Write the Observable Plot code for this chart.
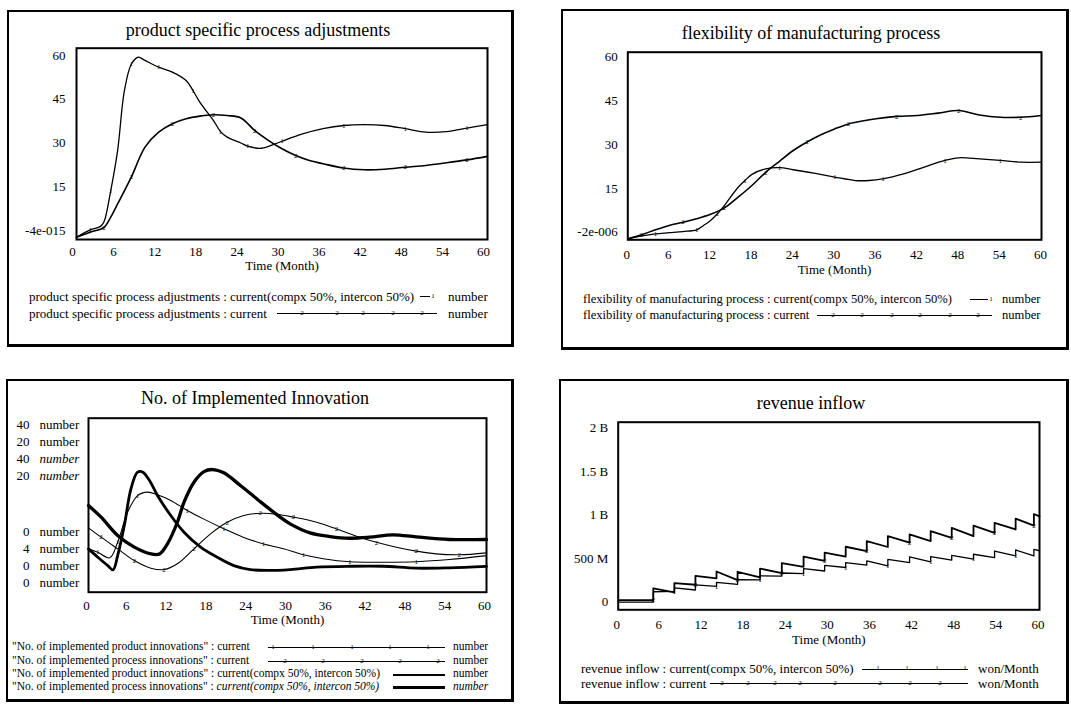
<!DOCTYPE html>
<html><head><meta charset="utf-8">
<script src="https://cdn.jsdelivr.net/npm/d3@7"></script>
<script src="https://cdn.jsdelivr.net/npm/@observablehq/plot@0.6"></script>
<style>
body{margin:0;background:#fff;font-family:"Liberation Serif","Times New Roman",serif;color:#000;}
#page{position:relative;width:1071px;height:709px;overflow:hidden;background:#fff;}
.box{position:absolute;border:2px solid #000;border-right-width:3px;border-bottom-width:3px;box-sizing:border-box;}
.title{position:absolute;transform:translate(-50%,-50%);white-space:nowrap;font-size:18px;}
.lg{position:absolute;white-space:nowrap;transform:translateY(-50%);line-height:1;}
.ln{position:absolute;height:0;border-top-style:solid;border-top-color:#000;}
.mk{position:absolute;font-size:7px;transform:translate(-50%,-55%);line-height:1;}
.plot{position:absolute;}
</style></head><body><div id="page"></div><script>
const FONT = '"Liberation Serif","Times New Roman",serif';
const xTicks = [0, 6, 12, 18, 24, 30, 36, 42, 48, 54, 60];

// ---- Panel 1: product specific process adjustments ----
const psaTimeCompx = [0,2,3.5,4,5,6,7,8,9,10,12,14,16,17,18,20,21,22,24,25,27,29,30,33,36,39,42,45,48,51,54,57,60];
const psaCompx = [-2.3,0.2,1.4,2.9,13.7,27.4,48,57,59.4,58.3,56,54.3,51.4,48,44,37.7,34,32,30,28.9,28.2,29.7,30.6,33.1,34.9,36,36.3,36,34.9,33.7,33.9,35.1,36.3];
const psaTimeCurrent = [0,2,4,5,6,8,10,12,14,16,18,20,22,24,26,28,30,32,34,36,39,42,45,48,51,54,57,60];
const psaCurrent = [-2.3,-0.6,1.1,4.6,9.1,18.3,28.6,33.7,36.6,38.3,39.2,39.7,39.4,38.6,34.3,30.9,28,25.7,24,22.9,21.4,20.8,21,21.7,22.3,23.2,24.2,25.4];
const psaYTicks = [0, 15, 30, 45, 60];
const psaYLabels = ["-4e-015", "15", "30", "45", "60"];

// ---- Panel 2: flexibility of manufacturing process ----
const flexTimeCurrent = [0,2,4,6,8,10,12,14,16,18,20,22,24,26,28,30,32,34,36,39,42,45,48,51,54,57,60];
const flexCurrent = [-2.3,-0.9,0.8,2.3,3.4,4.6,6.1,8.3,12,16,20.5,24.3,28,30.9,33.4,35.4,37.1,38.1,38.9,39.7,40,40.8,41.7,40.2,39.4,39.4,40];
const flexTimeCompx = [0,2,4,6,8,10,11,12,13,14,16,17,18,20,22,24,27,30,33,35,37,40,43,46,48,51,54,57,60];
const flexCompx = [-2.3,-1.3,-0.6,-0.2,0.2,0.8,2.3,4,6.3,9.1,15.4,17.7,19.8,21.7,22.1,21.4,20.2,18.9,17.7,17.7,18.3,20,22.3,24.6,25.5,25.1,24.6,24,24];
const flexYTicks = [0, 15, 30, 45, 60];
const flexYLabels = ["-2e-006", "15", "30", "45", "60"];

// ---- Panel 3: No. of Implemented Innovation (each series on its own scale) ----
const innovScaleMax = [40, 20, 40, 20];
const innovScaleMin = [0, 4, 0, 0];
const innovUnit = "number";
const prodCurTime = [0,1.4,3.2,4.4,5.9,7.4,8.9,10.4,12.4,14.9,17.4,20.4,23.4,26.4,29.4,32.4,35.4,39.4,44.4,49.4,54.4,60];
const prodCur = [10,9.2,7.9,11.5,18.4,22.2,23,22.4,21.1,18.8,16.8,14.6,12.6,11.1,10,8.6,7.7,7.0,6.9,7.0,7.5,8.4];
const procCurTime = [0,1.9,4.4,6.9,9.4,11.4,13.4,15.9,18.4,20.9,23.4,25.9,28.4,30.9,34.4,37.4,40.4,43.4,46.4,49.4,52.4,55.9,60];
const procCur = [9.92,9.06,7.98,6.91,6.21,6.08,6.61,7.98,9.36,10.43,11.06,11.26,11.17,10.9,10.43,9.82,9.15,8.59,8.14,7.78,7.52,7.44,7.62];
const prodCpxTime = [0,1.4,2.9,3.7,4.4,5.4,6.4,7.4,8.2,9.2,10.4,12.4,14.4,16.9,19.4,21.9,24.4,26.9,30.4,34.4,39.4,44.4,49.4,54.4,60];
const prodCpx = [9.96,8.04,6.12,5.12,8.44,15.32,23.76,27.6,27.6,25.68,22.24,17.64,13.8,10.36,8.04,6.12,5.2,5.0,5.2,5.76,5.96,5.96,5.52,5.6,5.92];
const procCpxTime = [0,1.9,4.4,6.9,9.4,10.7,11.9,13.4,14.4,15.9,17.4,18.7,20.4,22.9,25.4,27.9,30.4,33.4,36.4,39.4,42.4,45.9,49.4,54.4,60];
const procCpx = [9.96,8.62,6.52,5.18,4.4,4.4,5.56,8.04,10.34,12.64,13.86,14.1,13.72,12.26,10.72,9.2,7.86,6.82,6.4,6.2,6.32,6.6,6.36,6.06,6.06];

// ---- Panel 4: revenue inflow (million won / Month) ----
const revTime = [0,5,5,8,8,11,11,14,14,17,17,20.2,20.2,23.3,23.3,26.4,26.4,29.4,29.4,32.4,32.4,35.4,35.4,38.4,38.4,41.5,41.5,44.5,44.5,47.5,47.5,50.6,50.6,53.6,53.6,56.6,56.6,59.2,59.2,60];
const revCurrent = [25,25,159,114,220,200,303,273,352,254,349,284,386,334,447,405,523,474,568,523,636,587,701,633,758,682,777,701,814,738,852,758,879,795,909,834,959,879,1011,985];
const revCompx = [0,0,120,125,165,140,198,182,227,204,258,255,303,300,335,328,386,358,422,398,454,425,474,417,490,455,519,462,523,482,538,493,550,511,587,530,599,530,606,590];
const revYTicks = [0, 500, 1000, 1500, 2000];
const revYLabels = ["0", "500 M", "1 B", "1.5 B", "2 B"];

const page = document.getElementById("page");

function box(l, t, w, h) {
  const d = document.createElement("div"); d.className = "box";
  Object.assign(d.style, {left: l + "px", top: t + "px", width: w + "px", height: h + "px"});
  page.appendChild(d);
}
function title(txt, cx, cy) {
  const d = document.createElement("div"); d.className = "title"; d.textContent = txt;
  d.style.left = cx + "px"; d.style.top = cy + "px"; page.appendChild(d);
}
function legendRow(r) {
  const d = document.createElement("div"); d.className = "lg";
  Object.assign(d.style, {left: r.x + "px", top: r.y + "px", fontSize: r.fs + "px"});
  r.parts.forEach(p => { const s = document.createElement("span"); s.textContent = p[0]; if (p[1]) s.style.fontStyle = "italic"; d.appendChild(s); });
  page.appendChild(d);
  const ln = document.createElement("div"); ln.className = "ln";
  Object.assign(ln.style, {left: r.x1 + "px", width: (r.x2 - r.x1) + "px", top: (r.y - r.w / 2 + 1) + "px", borderTopWidth: r.w + "px"});
  page.appendChild(ln);
  (r.marks || []).forEach(mx => { const m = document.createElement("div"); m.className = "mk"; m.textContent = r.mark; m.style.left = mx + "px"; m.style.top = (r.y + 1) + "px"; page.appendChild(m); });
  const u = document.createElement("div"); u.className = "lg"; u.textContent = r.unit;
  Object.assign(u.style, {left: r.ux + "px", top: r.y + "px", fontSize: r.fs + "px", fontStyle: r.unitItalic ? "italic" : "normal"});
  page.appendChild(u);
}

function seriesMarks(list) {
  const out = [];
  list.forEach(s => {
    const data = s.t.map((t, i) => ({t, v: s.v[i]}));
    const y = s.norm ? (d => (d.v - s.norm[0]) / (s.norm[1] - s.norm[0])) : "v";
    out.push(Plot.line(data, {x: "t", y, curve: s.curve || "catmull-rom", stroke: "#000", strokeWidth: s.w}));
    if (s.mark) out.push(Plot.text(data.filter((d, i) => i % s.every === s.off && i > 0 && i < data.length - 1), {x: "t", y, text: () => s.mark, fontSize: 7, fill: "#000", fontFamily: FONT}));
  });
  return out;
}

function panel(cfg) {
  const marks = [
    Plot.axisX(xTicks, {tickSize: 0, tickPadding: cfg.xPad, dx: cfg.xdx, label: null, fontSize: 13}),
    Plot.text(["Time (Month)"], {frameAnchor: "bottom", lineAnchor: "middle", dy: cfg.timeDy, fontSize: 13, fontFamily: FONT})
  ];
  if (cfg.yTicks) {
    const fmt = new Map(cfg.yTicks.map((v, i) => [v, cfg.yLabels[i]]));
    marks.push(Plot.axisY(cfg.yTicks, {tickSize: 0, tickPadding: cfg.yPad, tickFormat: d => fmt.get(d), label: null, fontSize: 13}));
  }
  marks.push(...(cfg.extra || []), ...seriesMarks(cfg.series), Plot.frame({stroke: "#000", strokeWidth: 2}));
  const svg = Plot.plot({
    width: cfg.w, height: cfg.h,
    marginLeft: cfg.ml, marginRight: cfg.mr, marginTop: cfg.mt, marginBottom: cfg.mb,
    x: {domain: [0, 60]},
    y: {domain: cfg.yDomain, axis: cfg.yTicks ? undefined : null},
    style: {fontFamily: FONT, fontSize: "13px", background: "transparent", color: "#000", overflow: "visible"},
    marks
  });
  svg.classList.add("plot");
  svg.style.position = "absolute"; svg.style.left = cfg.left + "px"; svg.style.top = cfg.top + "px";
  page.appendChild(svg);
}

// Boxes
box(7, 10, 507, 337);
box(561, 9, 508, 341);
box(6, 379, 508, 323);
box(559, 379, 510, 325);

// Titles
title("product specific process adjustments", 258, 30);
title("flexibility of manufacturing process", 811, 33);
title("No. of Implemented Innovation", 255, 398);
title("revenue inflow", 811, 403);

// Panel 1
panel({left: 9, top: 40, w: 503, h: 240, ml: 67, mr: 25, mt: 7.7, mb: 41,
  yDomain: [-3.09, 62.5], yTicks: psaYTicks, yLabels: psaYLabels, yPad: 11, xPad: 7.4, xdx: -4, timeDy: 26,
  series: [
    {t: psaTimeCompx, v: psaCompx, w: 1.3, mark: "1", every: 3, off: 1},
    {t: psaTimeCurrent, v: psaCurrent, w: 1.6, mark: "2", every: 3, off: 2}
  ]});

// Panel 2
panel({left: 563, top: 44, w: 504, h: 240, ml: 64.3, mr: 26, mt: 7.7, mb: 44.7,
  yDomain: [-2.63, 61.71], yTicks: flexYTicks, yLabels: flexYLabels, yPad: 10, xPad: 10.4, xdx: -1, timeDy: 30,
  series: [
    {t: flexTimeCompx, v: flexCompx, w: 1.3, mark: "1", every: 3, off: 2},
    {t: flexTimeCurrent, v: flexCurrent, w: 1.6, mark: "2", every: 3, off: 1}
  ]});

// Panel 3 with multi-scale labels
const p3extra = [];
innovScaleMax.forEach((m, i) => {
  p3extra.push(Plot.text([String(m)], {frameAnchor: "top-left", dx: -59, dy: 6.6 + 17.1 * i, textAnchor: "end", lineAnchor: "middle", fontSize: 13, fontFamily: FONT}));
  p3extra.push(Plot.text([innovUnit], {frameAnchor: "top-left", dx: -49, dy: 6.6 + 17.1 * i, textAnchor: "start", lineAnchor: "middle", fontSize: 13, fontFamily: FONT, fontStyle: i >= 2 ? "italic" : "normal"}));
});
innovScaleMin.forEach((m, i) => {
  p3extra.push(Plot.text([String(m)], {frameAnchor: "bottom-left", dx: -59, dy: -60 + 16.9 * i, textAnchor: "end", lineAnchor: "middle", fontSize: 13, fontFamily: FONT}));
  p3extra.push(Plot.text([innovUnit], {frameAnchor: "bottom-left", dx: -49, dy: -60 + 16.9 * i, textAnchor: "start", lineAnchor: "middle", fontSize: 13, fontFamily: FONT}));
});
panel({left: 8, top: 410, w: 504, h: 225, ml: 80, mr: 26, mt: 7.7, mb: 43.3,
  yDomain: [0, 1], xPad: 9, xdx: -2, timeDy: 27.6, extra: p3extra,
  series: [
    {t: prodCurTime, v: prodCur, w: 1.1, norm: [innovScaleMin[0], innovScaleMax[0]], mark: "1", every: 2, off: 1},
    {t: procCurTime, v: procCur, w: 1.1, norm: [innovScaleMin[1], innovScaleMax[1]], mark: "2", every: 2, off: 1},
    {t: prodCpxTime, v: prodCpx, w: 2.8, norm: [innovScaleMin[2], innovScaleMax[2]]},
    {t: procCpxTime, v: procCpx, w: 3.3, norm: [innovScaleMin[3], innovScaleMax[3]]}
  ]});

// Panel 4
panel({left: 561, top: 414, w: 506, h: 235, ml: 56.7, mr: 28, mt: 7.7, mb: 39.7,
  yDomain: [-87, 2064], yTicks: revYTicks, yLabels: revYLabels, yPad: 10, xPad: 10.4, xdx: -1.5, timeDy: 30,
  series: [
    {t: revTime, v: revCompx, w: 1.3, curve: "linear", mark: "1", every: 4, off: 3},
    {t: revTime, v: revCurrent, w: 1.8, curve: "linear", mark: "2", every: 4, off: 1}
  ]});

// Legends
const U = "number";
legendRow({x: 29, y: 296, fs: 13, parts: [["product specific process adjustments : current(compx 50%, intercon 50%)"]], x1: 420, x2: 430, w: 1.2, mark: "1", marks: [433], ux: 448, unit: U});
legendRow({x: 29, y: 313, fs: 13, parts: [["product specific process adjustments : current"]], x1: 277, x2: 437, w: 1.5, mark: "2", marks: [302, 337, 363, 393, 422], ux: 448, unit: U});
legendRow({x: 583, y: 299, fs: 12.6, parts: [["flexibility of manufacturing process : current(compx 50%, intercon 50%)"]], x1: 970, x2: 988, w: 1.2, mark: "1", marks: [991], ux: 1002, unit: U});
legendRow({x: 583, y: 315, fs: 12.6, parts: [["flexibility of manufacturing process : current"]], x1: 817, x2: 992, w: 1.5, mark: "2", marks: [833, 862, 892, 920, 950, 978], ux: 1002, unit: U});
legendRow({x: 12, y: 646.7, fs: 11.5, parts: [['"No. of implemented product innovations" : current']], x1: 268, x2: 445, w: 1.1, mark: "1", marks: [273, 313, 352, 390, 428], ux: 453, unit: U});
legendRow({x: 12, y: 661, fs: 11.5, parts: [['"No. of implemented process innovations" : current']], x1: 268, x2: 445, w: 1.1, mark: "2", marks: [285, 323, 362, 400, 438], ux: 453, unit: U});
legendRow({x: 12, y: 674, fs: 11.5, parts: [['"No. of implemented product innovations" : current(compx 50%, intercon 50%)']], x1: 393, x2: 445, w: 2.8, mark: "", marks: [], ux: 453, unit: U});
legendRow({x: 12, y: 686.7, fs: 11.5, parts: [['"No. of implemented process innovations" : '], ["current(compx 50%, intercon 50%)", true]], x1: 393, x2: 445, w: 3.3, mark: "", marks: [], ux: 453, unit: U, unitItalic: true});
legendRow({x: 581, y: 668.3, fs: 13, parts: [["revenue inflow : current(compx 50%, intercon 50%)"]], x1: 862, x2: 968, w: 1.3, mark: "1", marks: [878, 907, 937, 965], ux: 978, unit: "won/Month"});
legendRow({x: 581, y: 683.3, fs: 13, parts: [["revenue inflow : current"]], x1: 710, x2: 968, w: 1.8, mark: "2", marks: [722, 748, 775, 800, 835, 880, 910, 940], ux: 978, unit: "won/Month"});
</script></body></html>
